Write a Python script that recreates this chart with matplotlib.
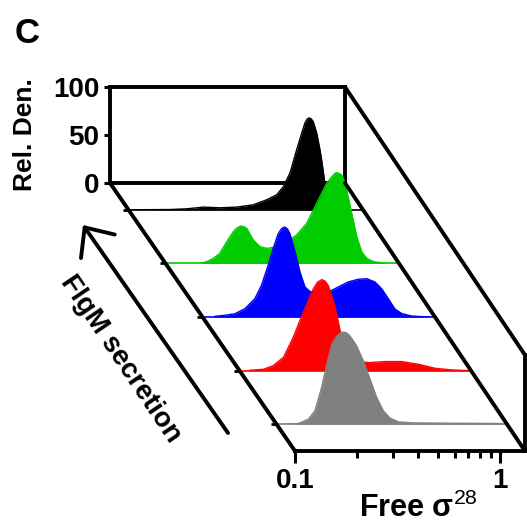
import matplotlib
matplotlib.use('Agg')
import matplotlib.pyplot as plt
from matplotlib.patches import ConnectionPatch, FancyArrowPatch
from matplotlib.ticker import FixedLocator, NullFormatter

# histogram data (free sigma28 value, relative density %)
black_x = [0.1017, 0.159, 0.192, 0.232, 0.279, 0.337, 0.406, 0.472, 0.528, 0.569, 0.614, 0.661,
           0.700, 0.726, 0.744, 0.762, 0.780, 0.797, 0.828, 0.859, 0.875, 0.892, 0.916, 0.930, 0.951]
black_y = [0, 0.3, 1, 2.8, 2.1, 2.8, 5.2, 10.4, 15.6, 24, 38.5, 62.5,
           80, 90.6, 94.5, 95.8, 94.5, 91.7, 80, 62.5, 52, 39.6, 20.8, 3, 0]

green_x = [0.147, 0.159, 0.171, 0.184, 0.199, 0.214, 0.224, 0.233, 0.241, 0.249, 0.268, 0.289,
           0.312, 0.336, 0.362, 0.405, 0.436, 0.488, 0.526, 0.567, 0.611, 0.640, 0.659, 0.672,
           0.684, 0.698, 0.724, 0.745, 0.766, 0.810, 0.857, 0.906, 0.958, 1.033, 1.2]
green_y = [0, 1.8, 5.2, 10.4, 22.6, 33, 37.2, 38.9, 38.3, 36.5, 24.3, 17.4,
           15.6, 16.7, 20.8, 25, 29.5, 41.7, 55.5, 69.5, 83.3, 89, 92, 94,
           94.5, 94, 92, 86, 76, 52, 27.8, 12.2, 5.2, 1.8, 0]

blue_x = [0.115, 0.129, 0.144, 0.161, 0.180, 0.194, 0.209, 0.221, 0.234, 0.243, 0.251, 0.259,
          0.267, 0.283, 0.299, 0.316, 0.335, 0.354, 0.382, 0.411, 0.460, 0.514, 0.575, 0.632,
          0.694, 0.748, 0.806, 0.869, 0.937, 1.048, 1.26]
blue_y = [0.7, 1.8, 3.4, 8.6, 19, 33, 53.8, 71, 86.8, 92, 93.8, 92,
          86.8, 67.7, 46.9, 31.3, 26.5, 25, 25, 26, 31.3, 36.5, 39.3, 39.9,
          36.5, 29.5, 19, 8.3, 3.6, 1, 0]

red_x = [0.112, 0.131, 0.146, 0.164, 0.183, 0.197, 0.213, 0.229, 0.240, 0.252, 0.262, 0.271,
         0.287, 0.300, 0.312, 0.327, 0.354, 0.390, 0.425, 0.513, 0.618, 0.745, 0.899, 1.084, 1.30]
red_y = [0.3, 1.4, 5.2, 13.9, 34.7, 52, 69.5, 85, 92, 94.8, 93, 88.5,
         72.9, 55.5, 38.2, 22.9, 12.5, 9.2, 8.3, 9.4, 9.4, 6.6, 2.4, 0.7, 0]

gray_x = [0.110, 0.128, 0.143, 0.154, 0.166, 0.176, 0.186, 0.197, 0.205, 0.212, 0.220, 0.228,
          0.246, 0.265, 0.286, 0.308, 0.332, 0.358, 0.393, 0.457, 0.716, 1.255]
gray_y = [0, 0.7, 5.2, 13.9, 38.2, 62.5, 83.3, 92, 95, 96, 95, 92,
          81.6, 66, 46.9, 27.8, 13.9, 6.3, 2.4, 1.4, 1, 0.7]

# back -> front
series_x = [black_x, green_x, blue_x, red_x, gray_x]
series_y = [black_y, green_y, blue_y, red_y, gray_y]
colors = ['black', '#00cc00', '#0000ff', '#ff0000', '#808080']
depths = [0.5, 1.5, 2.5, 3.5, 4.5]

plt.rcParams['font.family'] = ['Liberation Sans', 'DejaVu Sans']
plt.rcParams['font.weight'] = 'bold'
plt.rcParams['axes.labelweight'] = 'bold'
plt.rcParams['mathtext.fontset'] = 'custom'
plt.rcParams['mathtext.rm'] = 'Liberation Sans:weight=normal'
plt.rcParams['mathtext.it'] = 'Liberation Sans:italic:weight=normal'
plt.rcParams['mathtext.bf'] = 'Liberation Sans:bold'

W, H = 527, 529
fig = plt.figure(figsize=(W / 100, H / 100), dpi=100)
LW = 2.8


def panel(k):
    # each depth step moves the panel right and down
    left = 110 + 37 * k
    width = 235 - k
    base = 183 + 53.6 * k
    ax = fig.add_axes([left / W, (H - base) / H, width / W, 96 / H])
    ax.set_xscale('log')
    ax.set_xlim(0.1, 0.1 * 10 ** (width / 205))
    ax.set_ylim(0, 100)
    ax.set_facecolor('none')
    ax.tick_params(axis='x', which='both', bottom=False, labelbottom=False)
    return ax


# back panel with the density axis
ax_back = panel(0)
for s in ax_back.spines.values():
    s.set_linewidth(LW)
ax_back.set_yticks([0, 50, 100])
ax_back.tick_params(axis='y', length=4.5, width=2.2, labelsize=20, pad=3)
ax_back.set_ylabel('Rel. Den.', fontsize=19, fontweight='bold')
ax_back.yaxis.set_label_coords(-0.31, 0.5)

# histograms
for k, x, y, c in zip(depths, series_x, series_y, colors):
    ax = panel(k)
    ax.fill_between(x, y, color=c, lw=0)
    ax.plot(x, y, color=c, lw=1)
    ax.axhline(0, color=c, lw=1.2, clip_on=False)
    for s in ax.spines.values():
        s.set_visible(False)
    ax.set_yticks([0])
    ax.tick_params(axis='y', length=4, width=2, labelleft=False)

# front panel with the sigma28 axis
ax_front = panel(5)
ax_front.spines['left'].set_visible(False)
ax_front.spines['top'].set_visible(False)
ax_front.spines['bottom'].set_linewidth(LW)
ax_front.spines['right'].set_linewidth(LW)
ax_front.set_yticks([])
ax_front.tick_params(axis='x', which='both', bottom=True, labelbottom=True)
ax_front.set_xticks([0.1, 1], labels=['0.1', '1'])
ax_front.xaxis.set_minor_locator(FixedLocator([0.2, 0.3, 0.4, 0.5, 0.6, 0.7, 0.8, 0.9]))
ax_front.xaxis.set_minor_formatter(NullFormatter())
ax_front.tick_params(axis='x', which='major', length=8.5, width=2.2, labelsize=20, pad=4)
ax_front.tick_params(axis='x', which='minor', length=5, width=2.2)
ax_front.set_xlabel('Free σ$^{28}$', fontsize=22, fontweight='bold')
ax_front.xaxis.set_label_coords(0.535, -0.43)

# slanted edges joining back and front panels
for pt in [(0, 0), (1, 0), (1, 1)]:
    con = ConnectionPatch(xyA=pt, coordsA='axes fraction', axesA=ax_back,
                          xyB=pt, coordsB='axes fraction', axesB=ax_front,
                          color='black', lw=LW)
    fig.add_artist(con)

arrow = FancyArrowPatch((228 / W, 1 - 433 / H), (83 / W, 1 - 225 / H),
                        transform=fig.transFigure,
                        arrowstyle='->,head_length=0.83,head_width=0.74',
                        mutation_scale=20, lw=LW, color='black',
                        shrinkA=0, shrinkB=0)
fig.add_artist(arrow)
fig.text(120.5 / W, 1 - 358.5 / H, 'FlgM secretion', rotation=-56,
         rotation_mode='anchor', ha='center', va='center', fontsize=20)
fig.text(15 / W, 1 - 17 / H, 'C', fontsize=25, va='top', ha='left')

fig.savefig('out.png', dpi=100)
